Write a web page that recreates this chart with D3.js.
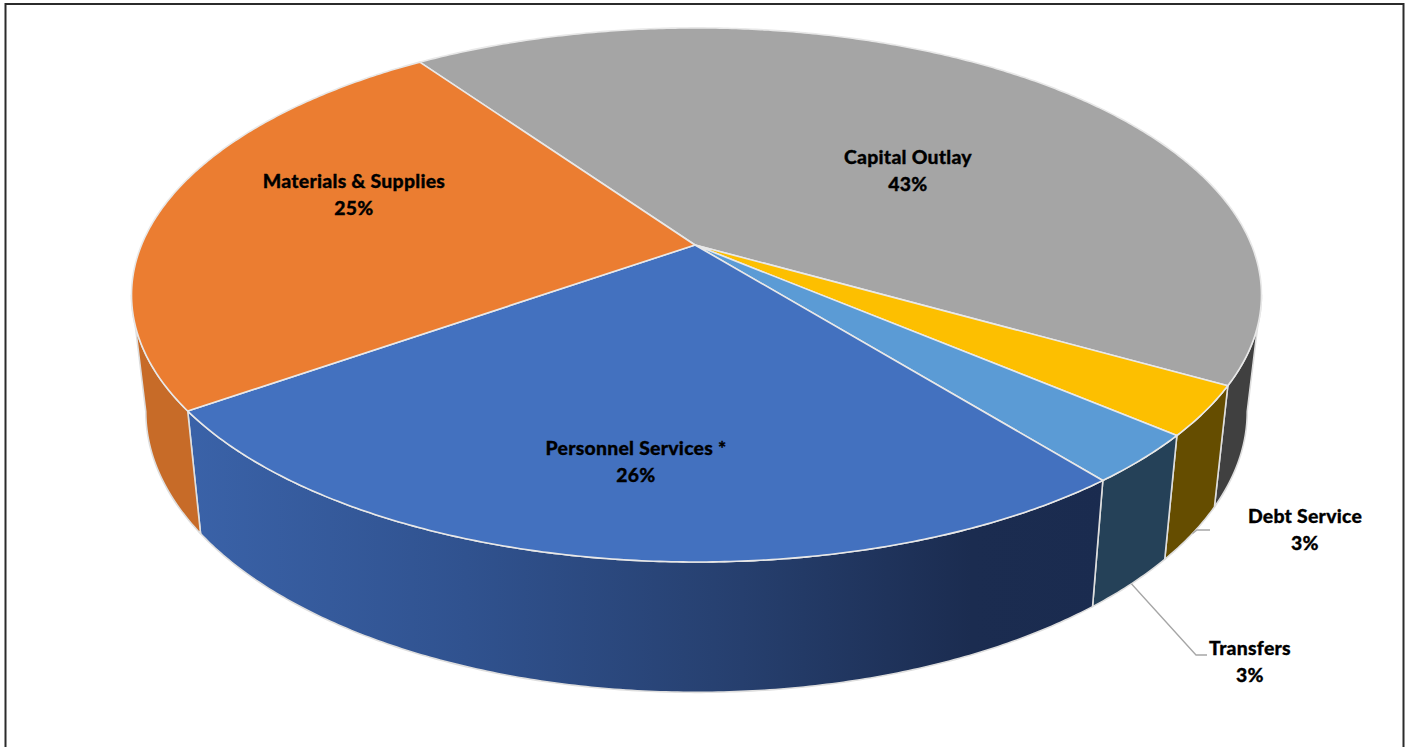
<!DOCTYPE html>
<html>
<head>
<meta charset="utf-8">
<script src="https://cdn.jsdelivr.net/npm/d3@7/dist/d3.min.js"></script>
<style>
  html, body { margin: 0; padding: 0; background: #fff; overflow: hidden; }
  svg { display: block; }
  text { font-family: Lato, "Open Sans", sans-serif; font-weight: 900; font-size: 19.4px; letter-spacing: 0.25px; fill: #000; stroke: #000; stroke-width: 0.3px; text-anchor: middle; }
</style>
</head>
<body>
<svg id="chart" width="1409" height="747"></svg>
<script>
// Budget shares, clockwise from the far left of the grey slice
const categories = ["Capital Outlay", "Debt Service", "Transfers", "Personnel Services *", "Materials & Supplies"];
const shares = [43, 3, 3, 26, 25];
const topColors = ["#a5a5a5", "#fdbf00", "#5b9bd5", "#4371bf", "#eb7d31"];
const wallColors = ["#404040", "#654d00", "#254158", null, "#c76b28"];
const labelCentres = [[908, 164], [1305, 523], [1250, 655], [636, 455], [354, 188]];

const W = 1409, H = 747;
const svg = d3.select("#chart");
const rad = d => d * Math.PI / 180;

// Perspective view of a disc: far rim is foreshortened more than the near rim
const persp = 0.187;
const apex = [695, 245];
const topDisc = { cx: 696.5, cy: 245, ax: 555, by: 257.7 };
const baseDisc = { cx: 696.5, cy: 359, ax: 541, by: 271 };
const project = (disc, a) => {
  const X = Math.sin(a), Y = -Math.cos(a), w = 1 - persp * Y;
  return [disc.cx + disc.ax * X / w, disc.cy + disc.by * Y / w];
};
const rim = (disc, a0, a1) => {
  const n = Math.max(2, Math.ceil(Math.abs(a1 - a0) / rad(0.5)));
  return d3.range(n + 1).map(i => project(disc, a0 + (a1 - a0) * i / n));
};

const start = rad(324.9);
const arcs = d3.pie().sort(null).startAngle(start).endAngle(start + 2 * Math.PI)(shares);
const path = d3.line();

// Front wall shading runs dark to the right
const defs = svg.append("defs");
const grad = defs.append("linearGradient").attr("id", "frontWall")
  .attr("gradientUnits", "userSpaceOnUse")
  .attr("x1", 190).attr("x2", 1110).attr("y1", 0).attr("y2", 0);
grad.selectAll("stop")
  .data([[0, "#3a62a8"], [0.3, "#30528f"], [0.6, "#263f6e"], [0.85, "#1b2c50"], [1, "#1a2b4f"]])
  .join("stop")
  .attr("offset", d => d[0]).attr("stop-color", d => d[1]);

// Outer walls, limited to the rim between the two silhouette tangents
const tangent = Math.acos(-persp);
const frontFrom = tangent, frontTo = 2 * Math.PI - tangent;
arcs.forEach((d, i) => {
  [0, -2 * Math.PI].forEach(turn => {
    const from = Math.max(d.startAngle + turn, frontFrom);
    const to = Math.min(d.endAngle + turn, frontTo);
    if (from >= to) return;
    const pts = rim(topDisc, from, to).concat(rim(baseDisc, to, from));
    svg.append("path")
      .attr("d", path(pts) + "Z")
      .attr("fill", wallColors[i] || "url(#frontWall)")
      .attr("stroke", "#dedede").attr("stroke-width", 1.6).attr("stroke-linejoin", "round");
  });
});

// Top faces
arcs.forEach((d, i) => {
  const pts = [apex].concat(rim(topDisc, d.startAngle, d.endAngle));
  svg.append("path")
    .attr("d", path(pts) + "Z")
    .attr("fill", topColors[i])
    .attr("stroke", "#e8e8e8").attr("stroke-width", 1.6).attr("stroke-linejoin", "round");
});

// Leader lines for the two narrow slices
const midAngle = d => (d.startAngle + d.endAngle) / 2;
const debtFoot = project(baseDisc, midAngle(arcs[1]));
const transferFoot = project(baseDisc, midAngle(arcs[2]));
[
  [debtFoot, [1197, 530], [1210, 530]],
  [transferFoot, [1196, 655], [1207, 655]]
].forEach(pts => {
  svg.append("path").attr("d", path(pts))
    .attr("fill", "none").attr("stroke", "#a6a6a6").attr("stroke-width", 1.3);
});

// Two-line labels: category name, then rounded share
categories.forEach((name, i) => {
  const [x, y] = labelCentres[i];
  const t = svg.append("text").attr("x", x).attr("y", y);
  t.append("tspan").attr("x", x).text(name);
  t.append("tspan").attr("x", x).attr("dy", 26.5).text(shares[i] + "%");
});

// Frame: open at the bottom edge
svg.append("path")
  .attr("d", d3.line()([[5.5, H], [5.5, 4], [1403.5, 4], [1403.5, H]]))
  .attr("fill", "none").attr("stroke", "#2b2b2b").attr("stroke-width", 2);
</script>
</body>
</html>
